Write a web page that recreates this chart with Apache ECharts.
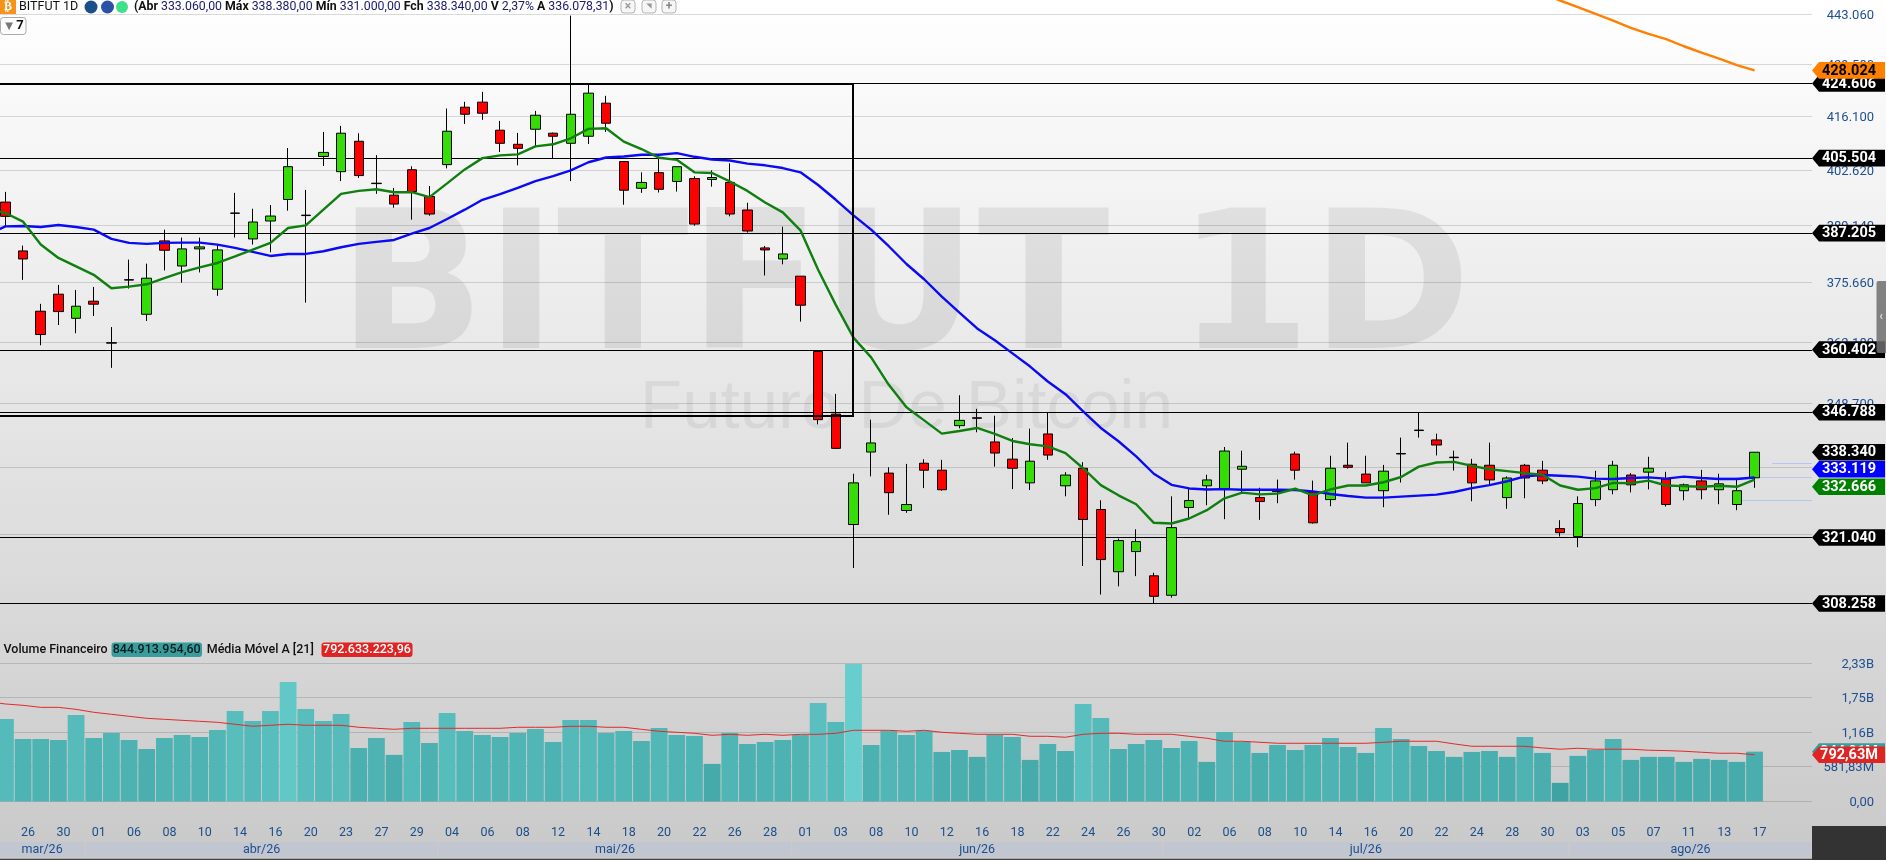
<!DOCTYPE html>
<html><head><meta charset="utf-8">
<style>html,body{margin:0;padding:0;background:#fff}#c{width:1886px;height:860px}</style>
<script src="https://cdn.jsdelivr.net/npm/echarts@6/dist/echarts.min.js"></script>
</head><body><div id="c"></div>
<script>
const days = ['24','25','26','27','30','31','01','02','06','07','08','09','10','13','14','15','16','17','20','22','23','24','27','28','29','30','04','05','06','07','08','11','12','13','14','15','18','19','20','21','22','25','26','27','28','29','01','02','03','05','08','09','10','11','12','15','16','17','18','19','22','23','24','25','26','29','30','01','02','03','06','07','08','09','10','13','14','15','16','17','20','21','22','23','24','27','28','29','30','31','03','04','05','06','07','10','11','12','13','14','17','','',''];
const opens = [394.68,382.99,369.03,372.92,367.43,371.32,361.95,376.27,368.34,385.36,379.45,383.47,374.06,392.03,385.83,390.11,395.32,391.52,405.92,402.14,409.74,399.30,396.37,402.62,396.04,403.89,418.43,419.73,412.54,408.98,412.79,411.78,409.23,411.01,419.47,404.65,398.05,401.90,399.73,400.45,400.21,399.49,392.76,383.70,381.10,377.08,360.01,346.38,323.61,338.38,334.02,326.42,336.06,334.62,343.93,345.59,340.49,336.90,332.02,342.17,331.42,335.02,326.62,314.34,318.27,313.55,309.82,327.02,331.42,330.82,334.82,329.02,330.48,337.96,330.15,328.62,335.64,333.82,330.42,338.08,342.99,340.91,337.31,335.85,335.64,329.02,335.64,334.62,322.81,321.22,328.62,330.62,333.62,334.22,332.82,330.42,332.42,330.62,327.62,333.06];
const closes = [391.23,381.10,363.77,368.95,370.17,370.63,361.85,376.17,376.61,383.15,383.47,383.94,383.23,391.97,389.87,391.31,403.38,391.42,406.94,411.78,401.18,399.20,394.20,397.25,391.79,412.28,416.61,416.88,409.23,407.96,416.36,411.01,416.61,422.06,414.32,397.57,399.49,397.81,403.38,389.38,400.70,391.79,387.72,383.23,382.28,370.40,345.19,339.15,332.02,340.28,330.02,327.62,334.62,330.62,345.05,345.49,338.17,335.02,336.48,337.75,333.62,324.61,316.70,320.43,320.23,309.62,322.99,328.42,332.62,338.59,335.43,328.22,330.22,334.62,323.95,335.02,335.22,332.02,334.42,337.98,342.89,339.85,337.21,332.02,332.62,333.02,333.02,332.42,322.00,327.82,332.42,335.64,331.62,335.02,327.62,331.62,330.62,331.82,330.42,338.34];
const lows = [388.67,376.22,361.38,365.91,364.07,367.96,356.38,374.21,366.82,378.42,375.58,377.95,372.54,386.15,384.49,382.68,392.60,370.99,403.54,399.81,400.61,396.69,393.32,390.43,391.39,402.96,414.15,415.17,407.03,403.72,408.39,405.41,399.81,409.06,412.11,394.04,396.93,397.01,397.25,388.98,398.45,391.23,387.33,377.24,379.84,366.67,344.21,339.01,315.06,333.35,325.55,325.95,330.95,330.42,343.36,342.52,335.36,330.75,330.55,336.76,329.28,315.45,309.95,311.52,313.49,308.26,309.36,324.95,327.48,324.68,330.02,324.54,327.88,332.69,323.80,327.28,334.95,332.02,327.08,332.09,341.40,337.68,334.55,328.28,331.48,326.75,328.88,331.75,321.22,319.12,327.28,329.68,330.08,330.68,327.22,328.48,328.68,327.68,326.48,331.00];
const highs = [397.17,384.25,370.71,375.05,373.91,374.59,365.45,380.95,380.00,388.04,386.15,386.15,384.49,396.93,393.08,393.96,408.05,397.65,412.11,413.64,411.78,406.26,398.13,403.47,398.61,418.09,419.82,422.41,414.91,411.86,417.48,411.95,442.70,424.22,421.37,404.65,401.98,405.41,403.38,401.02,402.46,404.23,394.52,384.17,388.75,377.08,360.29,350.73,333.89,345.19,335.22,335.92,336.90,336.76,350.44,347.51,346.03,341.33,343.29,346.80,334.22,336.27,328.48,320.82,322.67,314.14,329.28,331.02,333.69,339.43,338.66,331.02,332.69,338.45,332.49,337.61,340.35,337.61,335.71,341.40,346.73,342.24,338.66,336.97,340.35,333.35,335.92,336.55,324.48,329.28,334.49,336.55,334.02,337.40,334.29,331.88,334.69,333.89,333.02,338.38];
const maGreen = [393.20,392.03,389.95,384.49,381.34,379.37,377.40,374.29,374.67,375.20,376.61,378.03,379.13,380.16,381.73,383.31,384.89,388.43,389.06,392.84,396.69,397.41,397.81,397.09,397.09,395.88,399.25,402.70,405.51,406.20,406.45,408.47,408.98,410.50,412.87,413.05,409.66,407.79,405.59,405.08,401.98,401.82,399.73,397.41,394.60,392.19,387.88,378.58,370.48,363.09,358.70,352.68,347.86,345.05,342.24,342.80,343.43,342.17,340.70,340.00,339.57,338.17,335.02,331.55,329.48,327.68,323.95,323.81,324.81,326.48,328.88,330.02,329.68,329.82,330.82,329.48,330.68,331.48,331.48,332.15,333.22,335.36,336.20,336.34,335.50,334.82,334.42,334.02,333.69,331.48,330.62,330.95,332.02,331.95,332.49,331.48,331.35,331.22,331.42,331.22,332.67];
const maBlue = [386.85,388.82,388.90,388.67,389.14,388.67,388.04,385.83,384.89,384.65,384.89,384.96,384.96,384.49,383.70,382.76,381.81,382.28,382.28,382.91,383.86,384.65,385.12,385.59,387.09,388.43,390.59,392.84,395.24,396.61,398.13,399.81,401.02,402.46,404.49,405.67,405.92,406.35,406.35,406.77,405.84,405.16,404.91,404.15,403.72,403.04,401.98,398.85,395.24,391.47,388.04,384.10,379.92,376.37,372.38,368.73,365.15,362.49,359.57,356.67,353.41,350.65,346.95,343.43,340.63,337.47,333.89,331.62,330.88,330.68,330.75,330.62,330.62,330.62,330.55,330.28,329.75,329.35,329.02,329.02,329.22,329.42,329.62,330.15,330.95,331.55,332.35,333.35,333.62,333.49,333.29,332.89,332.82,333.02,333.15,332.89,333.29,333.02,332.82,332.82,333.12];
const maOrangeTail = [448.70,446.84,445.04,443.15,441.35,439.37,437.76,436.32,434.43,432.71,431.11,429.41,428.02];
const volumeB = [1.399,1.060,1.060,1.043,1.466,1.077,1.162,1.043,0.891,1.077,1.128,1.094,1.213,1.534,1.365,1.534,2.025,1.568,1.365,1.483,0.908,1.077,0.790,1.348,0.993,1.500,1.196,1.128,1.094,1.162,1.230,1.010,1.382,1.382,1.162,1.196,1.027,1.246,1.128,1.111,0.637,1.162,0.976,1.010,1.043,1.128,1.669,1.348,2.329,0.959,1.196,1.128,1.196,0.840,0.874,0.756,1.128,1.094,0.705,0.976,0.857,1.653,1.416,0.891,0.976,1.043,0.908,1.027,0.671,1.179,1.010,0.823,0.959,0.874,0.959,1.077,0.925,0.823,1.246,1.060,0.942,0.857,0.756,0.840,0.857,0.756,1.094,0.823,0.316,0.773,0.874,1.060,0.705,0.756,0.756,0.671,0.722,0.705,0.671,0.845];
const volumeMA = [1.692,1.653,1.630,1.596,1.596,1.562,1.512,1.478,1.444,1.410,1.393,1.376,1.359,1.342,1.309,1.275,1.292,1.309,1.292,1.292,1.292,1.258,1.241,1.224,1.241,1.241,1.241,1.241,1.241,1.241,1.258,1.258,1.258,1.275,1.275,1.258,1.258,1.224,1.190,1.173,1.156,1.122,1.139,1.122,1.139,1.122,1.139,1.139,1.156,1.207,1.207,1.207,1.190,1.207,1.173,1.156,1.139,1.139,1.139,1.105,1.105,1.089,1.139,1.156,1.156,1.139,1.139,1.139,1.105,1.072,1.021,1.021,1.004,0.987,0.987,0.987,0.987,0.987,0.987,1.004,1.021,1.021,1.021,0.976,0.936,0.936,0.936,0.936,0.908,0.886,0.902,0.886,0.886,0.886,0.869,0.863,0.852,0.835,0.818,0.818,0.7926];
const priceTicks = [443.06,429.58,416.10,402.62,389.14,375.66,362.18,348.70,335.22,321.74];
const priceTickLabels = ['443.060','429.580','416.100','402.620','389.140','375.660','362.180','348.700','335.220','321.740'];
const levels = [424.606,405.504,387.205,360.402,346.788,321.04,308.258];
const tagPrices = [424.606,405.504,387.205,360.402,346.788,321.04,308.258,338.34,428.024,334.82,331.22];
const tagTexts = ['424.606','405.504','387.205','360.402','346.788','321.040','308.258','338.340','428.024','333.119','332.666'];
const tagFills = ['#000','#000','#000','#000','#000','#000','#000','#000','#ff8000','#0000ff','#008000'];
const tagInk = ['#fff','#fff','#fff','#fff','#fff','#fff','#fff','#fff','#000','#fff','#fff'];
const guidePrices = [336.06,333.22,328.62];
const guideStarts = [101,98,99];
const volTicks = [0,0.58183,1.16,1.75,2.33];
const volTickLabels = ['0,00','581,83M','1,16B','1,75B','2,33B'];
const volTags = [0.8449,0.7926];
const volTagTexts = ['844,91M','792,63M'];
const volTagFills = ['#3a9c9c','#e02424'];
const monthNames = ['mar/26','abr/26','mai/26','jun/26','jul/26','ago/26'];
const monthStart = [1,6,26,46,67,90];
const monthEnd = [5,25,45,66,89,103];
const boxTopPrice = 424.5, boxBottomPrice = 346.05, boxEndIndex = 49;

const F = "Roboto, 'Liberation Sans', sans-serif";
const PLOT_RIGHT = 1812;
const chart = echarts.init(document.getElementById('c'), null, {renderer:'canvas'});
const candles = [['-','-','-','-']].concat(opens.map((o,i)=>[o,closes[i],lows[i],highs[i]]));
const volumeBars = ['-'].concat(volumeB);
const orange = days.map((_,i)=>{const k=i-(opens.length+1-maOrangeTail.length);return (k>=0&&k<maOrangeTail.length)?maOrangeTail[k]:null;});
const gridStroke = 'rgba(0,0,0,0.14)';

function hline(y,x1,x2,stroke,lw){return {type:'line',shape:{x1,y1:y,x2,y2:y},style:{stroke,lineWidth:lw}};}
function tag(y,fill,text,ink){
  const H=8.3;
  return {type:'group',children:[
    {type:'polygon',shape:{points:[[PLOT_RIGHT,y],[PLOT_RIGHT+7,y-H],[1885,y-H],[1885,y+H],[PLOT_RIGHT+7,y+H]]},style:{fill}},
    {type:'text',style:{text,x:1849,y:y+0.5,fill:ink,align:'center',verticalAlign:'middle',font:"bold 14.5px "+F}}
  ]};
}
function pts(a){return a.map(v=>[1,v]);}

const option = {
  animation:false,
  backgroundColor:new echarts.graphic.LinearGradient(0,0,0,1,[{offset:0,color:'#ffffff'},{offset:1,color:'#c9c9c9'}]),
  grid:[
    {left:-21.1,top:0,width:1837.47,height:640,containLabel:false,outerBoundsMode:'none'},
    {left:-21.1,top:640,width:1837.47,height:161.5,containLabel:false,outerBoundsMode:'none'}
  ],
  xAxis:[
    {type:'category',gridIndex:0,data:days,boundaryGap:true,axisLine:{show:false},axisTick:{show:false},axisLabel:{show:false},splitLine:{show:false}},
    {type:'category',gridIndex:1,data:days,boundaryGap:true,axisLine:{show:false},axisTick:{show:false},splitLine:{show:false},
     axisLabel:{show:true,interval:(i)=>i>0&&i%2===0,hideOverlap:false,margin:25,padding:[0,0,0,10],color:'#1c4f8c',fontSize:12.5,fontFamily:F}}
  ],
  yAxis:[
    {type:'log',logBase:10,gridIndex:0,min:301.40,max:446.98,axisLine:{show:false},axisTick:{show:false},axisLabel:{show:false},splitLine:{show:false}},
    {type:'value',gridIndex:1,min:0,max:2.7374,axisLine:{show:false},axisTick:{show:false},axisLabel:{show:false},splitLine:{show:false}}
  ],
  graphic:[
    {type:'text',z:-1,silent:true,scaleX:1.006,x:338,y:298.6,style:{text:'BITFUT 1D',fill:'rgba(0,0,0,0.075)',verticalAlign:'middle',font:"bold 192px 'DejaVu Sans'"}},
    {type:'text',z:-1,silent:true,x:640,y:409,style:{text:'Futuro De Bitcoin',fill:'rgba(0,0,0,0.06)',verticalAlign:'middle',font:"69px 'Liberation Sans'"}},
    {type:'rect',z:20,silent:true,shape:{x:0,y:0,width:16,height:14},style:{fill:'#f7931a'}},
    {type:'text',z:21,silent:true,x:8,y:7,style:{text:'₿',fill:'#fff',align:'center',verticalAlign:'middle',font:"bold 12px 'DejaVu Sans'"}},
    {type:'text',z:21,silent:true,x:19,y:7,style:{text:'BITFUT 1D',fill:'#111',verticalAlign:'middle',font:"12.5px "+F}},
    {type:'circle',z:21,silent:true,shape:{cx:91,cy:7,r:6.5},style:{fill:'#1a4f8a'}},
    {type:'circle',z:21,silent:true,shape:{cx:107.5,cy:7,r:6.5},style:{fill:'#2a50a8'}},
    {type:'circle',z:21,silent:true,shape:{cx:122,cy:7,r:6},style:{fill:'#3ee08a'}},
    {type:'text',z:21,silent:true,x:134,y:7,style:{verticalAlign:'middle',font:"12.3px "+F,
      text:'{k|(Abr} {v|333.060,00} {k|Máx} {v|338.380,00} {k|Mín} {v|331.000,00} {k|Fch} {v|338.340,00} {k|V} {v|2,37%} {k|A} {v|336.078,31}{k|)}',
      rich:{k:{fill:'#111',font:"bold 12.3px "+F},v:{fill:'#1a1a6e',font:"12.3px "+F}}}},
    {type:'rect',z:21,silent:true,shape:{x:621,y:0,width:14,height:13,r:3},style:{fill:'#f6f6f6',stroke:'#b5b5b5'}},
    {type:'text',z:22,silent:true,x:628,y:6.5,style:{text:'×',fill:'#999',align:'center',verticalAlign:'middle',font:"bold 12px "+F}},
    {type:'rect',z:21,silent:true,shape:{x:642,y:0,width:14,height:13,r:3},style:{fill:'#f6f6f6',stroke:'#b5b5b5'}},
    {type:'text',z:22,silent:true,x:649,y:6.5,style:{text:'◥',fill:'#999',align:'center',verticalAlign:'middle',font:"7px 'DejaVu Sans'"}},
    {type:'rect',z:21,silent:true,shape:{x:662,y:0,width:14,height:13,r:3},style:{fill:'#f6f6f6',stroke:'#b5b5b5'}},
    {type:'text',z:22,silent:true,x:669,y:6.5,style:{text:'+',fill:'#888',align:'center',verticalAlign:'middle',font:"bold 12px "+F}},
    {type:'rect',z:21,silent:true,shape:{x:0.5,y:17.5,width:25.5,height:17,r:3},style:{fill:'#fdfdfd',stroke:'#aaa'}},
    {type:'text',z:22,silent:true,x:9,y:26,style:{text:'▼',fill:'#777',align:'center',verticalAlign:'middle',font:"10px 'DejaVu Sans'"}},
    {type:'text',z:22,silent:true,x:20,y:26,style:{text:'7',fill:'#111',align:'center',verticalAlign:'middle',font:"bold 13px "+F}},
    {type:'text',z:21,silent:true,x:3.5,y:650,style:{text:'Volume Financeiro',fill:'#111',verticalAlign:'middle',font:"500 12.5px "+F}},
    {type:'rect',z:21,silent:true,shape:{x:111.5,y:642.5,width:90.5,height:14.5,r:3},style:{fill:'#3a9c9c'}},
    {type:'text',z:22,silent:true,x:156.7,y:650,style:{text:'844.913.954,60',fill:'#081f1f',align:'center',verticalAlign:'middle',font:"500 12.5px "+F}},
    {type:'text',z:21,silent:true,x:206.7,y:650,style:{text:'Média Móvel A [21]',fill:'#111',verticalAlign:'middle',font:"500 12.5px "+F}},
    {type:'rect',z:21,silent:true,shape:{x:321.5,y:642.5,width:91,height:14.5,r:3},style:{fill:'#e02424'}},
    {type:'text',z:22,silent:true,x:367,y:650,style:{text:'792.633.223,96',fill:'#fff',align:'center',verticalAlign:'middle',font:"500 12.5px "+F}},
    {type:'rect',z:21,silent:true,shape:{x:1876.5,y:281,width:9.5,height:72,r:[2,0,0,2]},style:{fill:'rgba(110,110,110,0.85)'}},
    {type:'text',z:22,silent:true,x:1881,y:317,style:{text:'‹',fill:'#ddd',align:'center',verticalAlign:'middle',font:"bold 12px "+F}},
    {type:'rect',z:21,silent:true,shape:{x:1812,y:826,width:74,height:34},style:{fill:'#333333'}},
    {type:'rect',z:21,silent:true,shape:{x:0,y:858.7,width:1812,height:1.3},style:{fill:'#444'}}
  ],
  series:[
    {name:'priceTicks',type:'custom',xAxisIndex:0,yAxisIndex:0,z:1,silent:true,data:pts(priceTicks),encode:{x:0,y:1},
     renderItem:(p,api)=>{const y=Math.round(api.coord([0,api.value(1)])[1])+0.5;
       return {type:'group',children:[hline(y,0,PLOT_RIGHT,gridStroke,1),
        {type:'text',style:{text:priceTickLabels[p.dataIndex],x:1874,y:y+1.5,fill:'#1f4f92',align:'right',verticalAlign:'middle',font:"13px "+F}}]};}},
    {name:'levels',type:'custom',xAxisIndex:0,yAxisIndex:0,z:2,silent:true,data:pts(levels),encode:{x:0,y:1},
     renderItem:(p,api)=>hline(Math.round(api.coord([0,api.value(1)])[1])+0.5,0,PLOT_RIGHT,'#000',1)},
    {name:'guides',type:'custom',xAxisIndex:0,yAxisIndex:0,z:2,silent:true,data:guidePrices.map((v,i)=>[guideStarts[i],v]),encode:{x:0,y:1},
     renderItem:(p,api)=>{const c=api.coord([api.value(0),api.value(1)]);return hline(Math.round(c[1])+0.5,c[0],PLOT_RIGHT,'#b4c6f2',1);}},
    {name:'BITFUT 1D',type:'candlestick',xAxisIndex:0,yAxisIndex:0,z:3,data:candles,barWidth:10,silent:true,
     itemStyle:{color:'#35dc08',color0:'#ff0000',borderColor:'#000',borderColor0:'#000',borderColorDoji:'#000',borderWidth:1}},
    {name:'Média azul',type:'line',xAxisIndex:0,yAxisIndex:0,z:4,data:maBlue,showSymbol:false,silent:true,lineStyle:{color:'#0a0af5',width:2.4}},
    {name:'Média verde',type:'line',xAxisIndex:0,yAxisIndex:0,z:4,data:maGreen,showSymbol:false,silent:true,lineStyle:{color:'#0f7f0f',width:2.4}},
    {name:'Média laranja',type:'line',xAxisIndex:0,yAxisIndex:0,z:4,data:orange,showSymbol:false,silent:true,connectNulls:false,lineStyle:{color:'#ff8000',width:2.4}},
    {name:'box',type:'custom',xAxisIndex:0,yAxisIndex:0,z:5,silent:true,data:[[boxEndIndex,boxTopPrice,boxBottomPrice]],encode:{x:0,y:[1,2]},
     renderItem:(p,api)=>{const a=api.coord([api.value(0),api.value(1)]),b=api.coord([api.value(0),api.value(2)]);
       const t=Math.round(a[1]),r=Math.round(a[0]),h=Math.round(b[1])-t;
       return {type:'rect',shape:{x:-10,y:t,width:r+10,height:h},style:{fill:'none',stroke:'#000',lineWidth:2}};}},
    {name:'tags',type:'custom',xAxisIndex:0,yAxisIndex:0,z:7,silent:true,data:pts(tagPrices),encode:{x:0,y:1},
     renderItem:(p,api)=>{const i=p.dataIndex;return tag(api.coord([0,api.value(1)])[1],tagFills[i],tagTexts[i],tagInk[i]);}},
    {name:'volTicks',type:'custom',xAxisIndex:1,yAxisIndex:1,z:1,silent:true,data:pts(volTicks),encode:{x:0,y:1},
     renderItem:(p,api)=>{const y=Math.round(api.coord([0,api.value(1)])[1])-0.5;
       return {type:'group',children:[hline(y,0,PLOT_RIGHT,gridStroke,1),
        {type:'text',style:{text:volTickLabels[p.dataIndex],x:1874,y:y+1.5,fill:'#1f4f92',align:'right',verticalAlign:'middle',font:"13px "+F}}]};}},
    {name:'Volume Financeiro',type:'bar',xAxisIndex:1,yAxisIndex:1,z:3,silent:true,data:volumeBars,barWidth:'95%',
     itemStyle:{color:(p)=>echarts.color.lerp(Math.min(1,Math.max(0,(p.value-0.3)/2.03)),['#3fa3a3','#68cdcd'])}},
    {name:'Média Móvel A [21]',type:'line',xAxisIndex:1,yAxisIndex:1,z:4,silent:true,data:volumeMA,showSymbol:false,lineStyle:{color:'#e02a2a',width:1}},
    {name:'volTags',type:'custom',xAxisIndex:1,yAxisIndex:1,z:7,silent:true,data:pts(volTags),encode:{x:0,y:1},
     renderItem:(p,api)=>{const i=p.dataIndex;return tag(api.coord([0,api.value(1)])[1],volTagFills[i],volTagTexts[i],'#fff');}},
    {name:'months',type:'custom',xAxisIndex:1,yAxisIndex:1,z:2,silent:true,data:monthStart.map((s,i)=>[s,monthEnd[i]]),encode:{x:[0,1]},
     renderItem:(p,api)=>{const bw=api.size([1,0])[0];const a=api.coord([api.value(0),0])[0]-bw/2,b=Math.min(PLOT_RIGHT,api.coord([api.value(1),0])[0]+bw/2);
       const x0=Math.max(0,a+0.8),x1=b-0.8;
       return {type:'group',children:[
        {type:'rect',shape:{x:x0,y:842,width:x1-x0,height:15},style:{fill:'#c2c6d0'}},
        {type:'text',style:{text:monthNames[p.dataIndex],x:(x0+x1)/2,y:849.5,fill:'#1c4f8c',align:'center',verticalAlign:'middle',font:"12.5px "+F}}]};}}
  ]
};
chart.setOption(option);
</script></body></html>
